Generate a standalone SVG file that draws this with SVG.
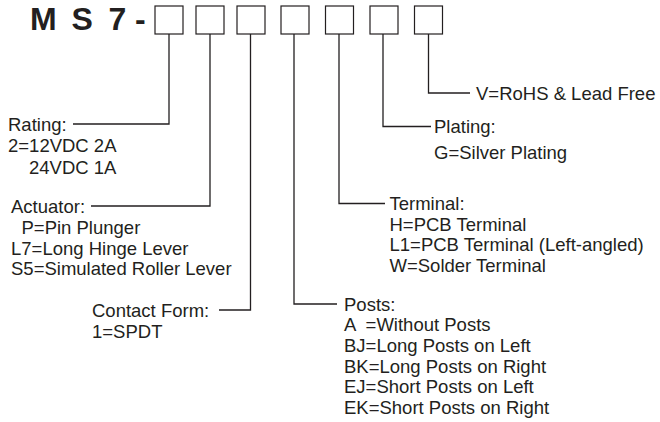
<svg xmlns="http://www.w3.org/2000/svg" width="660" height="422" viewBox="0 0 660 422">
<style>
.t{font-family:"Liberation Sans",Arial,Helvetica,sans-serif;font-size:18.5px;fill:#231f20}
.title{font-family:"Liberation Sans",Arial,Helvetica,sans-serif;font-size:32px;font-weight:bold;fill:#231f20}
.box{fill:#fff;stroke:#231f20;stroke-width:1.2}
.c{fill:none;stroke:#231f20;stroke-width:1.3}
</style>
<rect width="660" height="422" fill="#fff"/>
<g id="title">
<text class="title" x="30 60 71.4 100 108.4 128 135" y="29.5">M S 7 -</text>
</g>
<g id="boxes">
<rect class="box" x="155" y="6" width="28" height="28"/>
<rect class="box" x="196" y="6" width="28" height="28"/>
<rect class="box" x="237" y="6" width="28" height="28"/>
<rect class="box" x="281" y="6" width="28" height="28"/>
<rect class="box" x="325.5" y="6" width="28" height="28"/>
<rect class="box" x="370" y="6" width="28" height="28"/>
<rect class="box" x="414.5" y="6" width="28" height="28"/>
</g>
<g id="connectors">
<path class="c" d="M169,34V124H73"/>
<path class="c" d="M210,34V206H91"/>
<path class="c" d="M250.5,34V310H219"/>
<path class="c" d="M294,34V304H337"/>
<path class="c" d="M339,34V203.5H385"/>
<path class="c" d="M383,34V126.5H431"/>
<path class="c" d="M428.5,34V93H470"/>
</g>
<g id="rating">
<text class="t" x="8" y="130.5">Rating:</text>
<text class="t" x="8" y="152">2=12VDC 2A</text>
<text class="t" x="29" y="173.5">24VDC 1A</text>
</g>
<g id="actuator">
<text class="t" x="11" y="213">Actuator:</text>
<text class="t" x="21.5" y="234">P=Pin Plunger</text>
<text class="t" x="11" y="254.5">L7=Long Hinge Lever</text>
<text class="t" x="11" y="275">S5=Simulated Roller Lever</text>
</g>
<g id="contact">
<text class="t" x="92" y="316.5">Contact Form:</text>
<text class="t" x="92" y="337.5">1=SPDT</text>
</g>
<g id="posts">
<text class="t" x="344" y="310.5">Posts:</text>
<text class="t" x="344" y="331.2" xml:space="preserve">A  =Without Posts</text>
<text class="t" x="344" y="351.9">BJ=Long Posts on Left</text>
<text class="t" x="344" y="372.6">BK=Long Posts on Right</text>
<text class="t" x="344" y="393.3">EJ=Short Posts on Left</text>
<text class="t" x="344" y="414">EK=Short Posts on Right</text>
</g>
<g id="terminal">
<text class="t" x="389.5" y="209.5">Terminal:</text>
<text class="t" x="389.5" y="230.5">H=PCB Terminal</text>
<text class="t" x="389.5" y="251.3">L1=PCB Terminal (Left-angled)</text>
<text class="t" x="389.5" y="271.8">W=Solder Terminal</text>
</g>
<g id="plating">
<text class="t" x="434" y="133">Plating:</text>
<text class="t" x="434" y="159">G=Silver Plating</text>
</g>
<g id="rohs">
<text class="t" x="476" y="99.5">V=RoHS &amp; Lead Free</text>
</g>
</svg>
